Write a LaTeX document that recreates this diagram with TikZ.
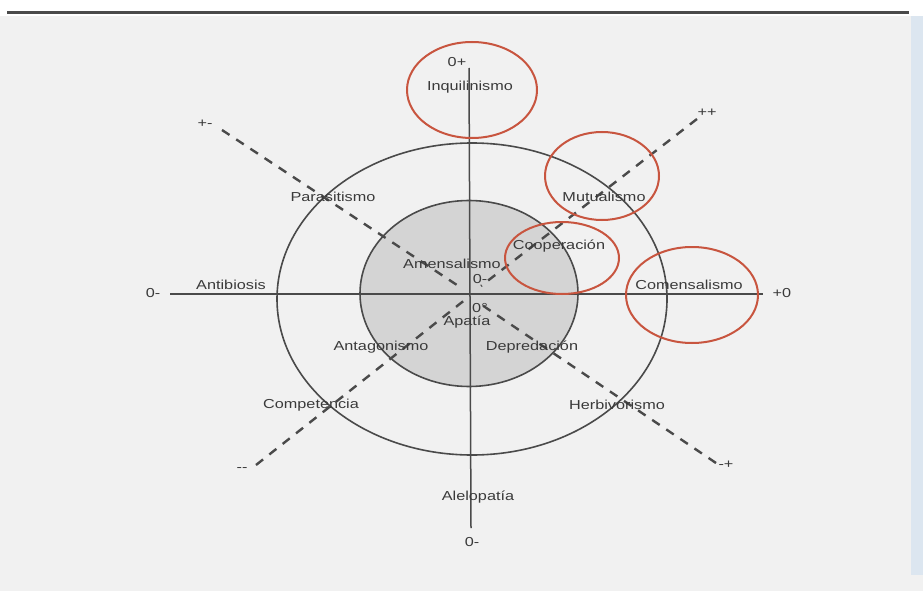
\documentclass[tikz,border=0pt]{standalone}
\usepackage{fontspec}
\setmainfont[FakeStretch=1.25]{Liberation Sans}
\usetikzlibrary{shapes.geometric}
\definecolor{ink}{HTML}{3A3A3A}
\definecolor{linec}{HTML}{4A4A4A}
\definecolor{redl}{HTML}{C8553F}
\definecolor{shadec}{HTML}{D4D4D4}
\definecolor{paper}{HTML}{F1F1F1}
\definecolor{edgeblue}{HTML}{DCE6F0}
\begin{document}
\begin{tikzpicture}[x=1pt,y=-1pt,
  lbl/.style={text=ink, font=\fontsize{13}{15}\selectfont, inner sep=0pt},
  axis/.style={draw=linec, line width=1.5pt},
  dashln/.style={draw=linec, line width=2.4pt, dash pattern=on 9pt off 8pt},
  ring/.style={draw=linec, line width=1.6pt},
  redring/.style={ellipse, draw=redl, line width=2pt, inner sep=0pt}]
\useasboundingbox (0,0) rectangle (923,591);
\fill[white] (0,0) rectangle (923,591);
\fill[paper] (0,16) rectangle (923,591);
\fill[edgeblue] (911,16) rectangle (923,575);
\draw[line width=3pt, draw=linec] (7,13) -- (909,13);

% ellipses
\filldraw[ring, fill=shadec] (469,293.5) ellipse [x radius=109pt, y radius=93pt];
\draw[ring] (472,299) ellipse [x radius=195pt, y radius=156pt];

% axes
\coordinate (ytop) at (469,68);
\coordinate (ybot) at (471,528);
\coordinate (xleft) at (170,294);
\coordinate (xright) at (763,294);
\draw[axis] (ytop) -- (ybot);
\draw[axis] (xleft) -- (xright);

% dashed diagonals
\coordinate (pmEnd) at (222,130);
\coordinate (pmIn) at (463,289);
\coordinate (ppEnd) at (697,119);
\coordinate (ppIn) at (481,286);
\coordinate (mmEnd) at (256,465);
\coordinate (mmIn) at (466,299);
\coordinate (mpEnd) at (716,463);
\coordinate (mpIn) at (479,303);
\draw[dashln] (pmEnd) -- (pmIn);
\draw[dashln] (ppEnd) -- (ppIn);
\draw[dashln] (mmEnd) -- (mmIn);
\draw[dashln] (mpEnd) -- (mpIn);

% end labels
\node[lbl] (lpm) at (205,124) {+-};
\node[lbl] (lpp) at (707,113) {++};
\node[lbl] (lmm) at (242,470) {-{}-};
\node[lbl] (lmp) at (726,465) {-+};
\node[lbl] (lxl) at (153,293) {0-};
\node[lbl] (lxr) at (782,293) {+0};
\node[lbl] (lyt) at (457,62) {0+};
\node[lbl] (lyb) at (472,542) {0-};
\node[lbl] (lc1) at (480,279) {0-};
\node[lbl] (lc2) at (480,308) {0°};

% labels
\node[lbl] (inq) at (470,87) {Inquilinismo};
\node[lbl] (par) at (333,197) {Parasitismo};
\node[lbl] (mut) at (604,197) {Mutualismo};
\node[lbl] (coo) at (559,246) {Cooperación};
\node[lbl] (ame) at (452,264) {Amensalismo};
\node[lbl] (ant) at (231,285) {Antibiosis};
\node[lbl] (com) at (689,285) {Comensalismo};
\node[lbl] (apa) at (467,322) {Apatía};
\node[lbl] (atg) at (381,347) {Antagonismo};
\node[lbl] (dep) at (532,347) {Depredación};
\node[lbl] (cmp) at (311,405) {Competencia};
\node[lbl] (her) at (617,405) {Herbivorismo};
\node[lbl] (ale) at (478,497) {Alelopatía};

% red highlight rings
\node[redring, minimum width=130pt, minimum height=96pt] (rinq) at (472,90) {};
\node[redring, minimum width=114pt, minimum height=88pt] (rmut) at (602,176) {};
\node[redring, minimum width=114pt, minimum height=72pt] (rcoo) at (562,258) {};
\node[redring, minimum width=132pt, minimum height=96pt] (rcom) at (692,295) {};
\end{tikzpicture}
\end{document}
